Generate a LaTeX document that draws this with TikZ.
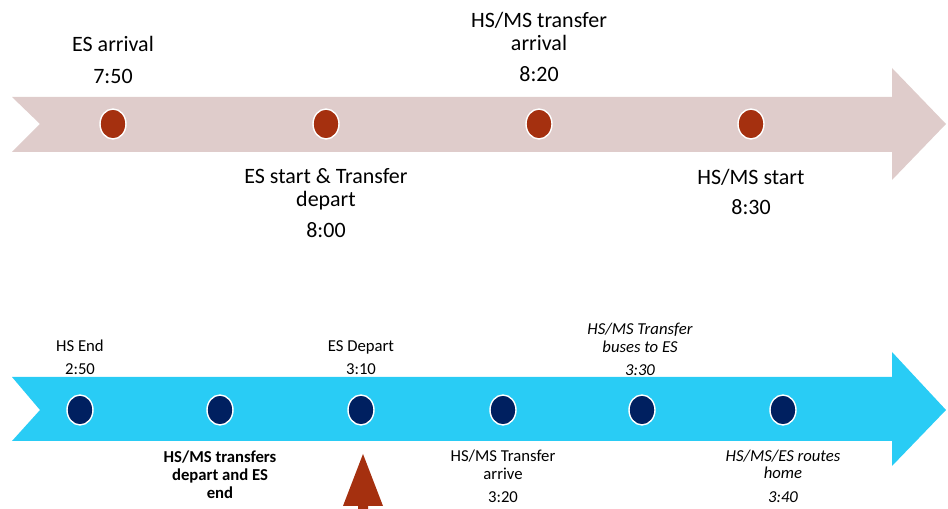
\documentclass[tikz,border=0pt]{standalone}
\usepackage{fontspec}
\setmainfont{Carlito}
\usetikzlibrary{positioning}
\definecolor{palerose}{HTML}{DFCCCB}
\definecolor{rust}{HTML}{A5300F}
\definecolor{skyband}{HTML}{29CCF5}
\definecolor{navydot}{HTML}{002060}
\tikzset{
  topdot/.style={ellipse, draw=white, line width=0.8pt, fill=rust, minimum width=0.52cm, minimum height=0.6cm, inner sep=0pt},
  lowdot/.style={ellipse, draw=white, line width=0.8pt, fill=navydot, minimum width=0.52cm, minimum height=0.6cm, inner sep=0pt},
  biglabel/.style={align=center, font=\fontsize{12.5}{13}\selectfont, inner sep=0pt},
  smalllabel/.style={align=center, font=\fontsize{9.5}{10.2}\selectfont, inner sep=0pt}
}
\usetikzlibrary{shapes.geometric}
\begin{document}
\begin{tikzpicture}[x=0.02cm,y=-0.02cm]
        \clip (0,0) rectangle (948,509);
        \useasboundingbox (0,0) rectangle (948,509);

        \fill[palerose] (12,97) -- (892,97) -- (892,68) -- (946,124) -- (892,180) -- (892,152) -- (12,152) -- (40,124) -- cycle;
        \fill[skyband] (12,377) -- (892,377) -- (892,352) -- (946,410) -- (892,466) -- (892,441) -- (12,441) -- (40,410) -- cycle;

        \node[topdot] (arrES) at (113,124) {};
        \node[topdot] (startES) at (326,124) {};
        \node[topdot] (arrHS) at (539,124) {};
        \node[topdot] (startHS) at (751,124) {};

        \node[biglabel] (arrEStxt) at (113,60) {ES arrival\\[5pt]7:50};
        \node[biglabel] (arrHStxt) at (539,47) {HS/MS transfer\\arrival\\[5pt]8:20};
        \node[biglabel] (startEStxt) at (326,203) {ES start \& Transfer\\depart\\[5pt]8:00};
        \node[biglabel] (startHStxt) at (751,192) {HS/MS start\\[4pt]8:30};

        \node[lowdot] (endHS) at (80,410) {};
        \node[lowdot] (departTr) at (220,410) {};
        \node[lowdot] (departES) at (361,410) {};
        \node[lowdot] (arriveTr) at (503,410) {};
        \node[lowdot] (busesTr) at (642,410) {};
        \node[lowdot] (homeAll) at (783,410) {};

        \node[smalllabel] (endHStxt) at (80,357.5) {HS End\\[3pt]2:50};
        \node[smalllabel] (departEStxt) at (361,357.5) {ES Depart\\[3pt]3:10};
        \node[smalllabel, font=\fontsize{9.5}{10.2}\selectfont\itshape] (busesTrtxt) at (640,349) {HS/MS Transfer\\buses to ES\\[3pt]3:30};
        \node[smalllabel, font=\fontsize{9.5}{10.2}\selectfont\bfseries] (departTrtxt) at (220,486) {HS/MS transfers\\depart and ES\\end\\[3pt]3:00};
        \node[smalllabel] (arriveTrtxt) at (503,476) {HS/MS Transfer\\arrive\\[3pt]3:20};
        \node[smalllabel, font=\fontsize{9.5}{10.2}\selectfont\itshape] (homeAlltxt) at (783,476) {HS/MS/ES routes\\home\\[3pt]3:40};

        \fill[rust] (343,506) -- (363,454) -- (383,506) -- (368,506) -- (368,515) -- (358,515) -- (358,506) -- cycle;

\end{tikzpicture}
\end{document}
